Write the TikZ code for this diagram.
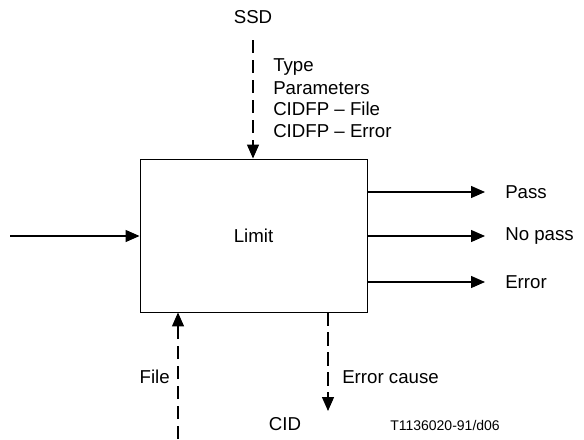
\documentclass[tikz,border=0pt]{standalone}
\usepackage{fontspec}
\setmainfont{Liberation Sans}
\usetikzlibrary{arrows.meta}
\begin{document}
\begin{tikzpicture}[x=0.75pt,y=-0.75pt,
  lbl/.style={font=\fontsize{14}{16}\selectfont, inner sep=0pt},
  conn/.style={line width=1pt, -{Triangle[length=10.5pt,width=9pt]}},
  dconn/.style={conn, dash pattern=on 10pt off 5pt},
  boxst/.style={draw, line width=0.7pt, minimum width=170.25pt, minimum height=114.75pt, inner sep=0pt}]
\useasboundingbox (0,0) rectangle (584,439);
\node[boxst, lbl] (box) at (253.5,235.5) {Limit};
% top
\node[lbl] (ssd) at (253,17) {SSD};
\coordinate (topstart) at (253,40);
\draw[dconn] (topstart) -- (box.north -| topstart);
\node[lbl, anchor=west] (t1) at (273,67) {Type};
\node[lbl, anchor=west] (t2) at (273,88) {Parameters};
\node[lbl, anchor=west] (t3) at (273,109) {CIDFP -- File};
\node[lbl, anchor=west] (t4) at (273,131) {CIDFP -- Error};
% left
\coordinate (lin) at (10,236);
\draw[conn] (lin) -- (box.west |- lin);
% right
\node[lbl, anchor=west] (pass) at (505,192) {Pass};
\node[lbl, anchor=west] (nopass) at (505,236) {No pass};
\node[lbl, anchor=west] (err) at (505,282) {Error};
\draw[conn] (box.east |- pass) -- ([xshift=-15]pass.west);
\draw[conn] (box.east |- nopass) -- ([xshift=-15]nopass.west);
\draw[conn] (box.east |- err) -- ([xshift=-15]err.west);
% bottom
\coordinate (filestart) at (178,439);
\draw[dconn] (filestart) -- (box.south -| filestart);
\node[lbl, anchor=east] (file) at (170,377) {File};
\coordinate (errend) at (328,411);
\draw[dconn] (box.south -| errend) -- (errend);
\node[lbl, anchor=west] (ecause) at (342,377) {Error cause};
\node[lbl] (cid) at (285,424) {CID};
\node[font=\fontsize{10.5}{12}\selectfont, inner sep=0pt, anchor=west] (tag) at (390,425) {T1136020-91/d06};
\end{tikzpicture}
\end{document}
